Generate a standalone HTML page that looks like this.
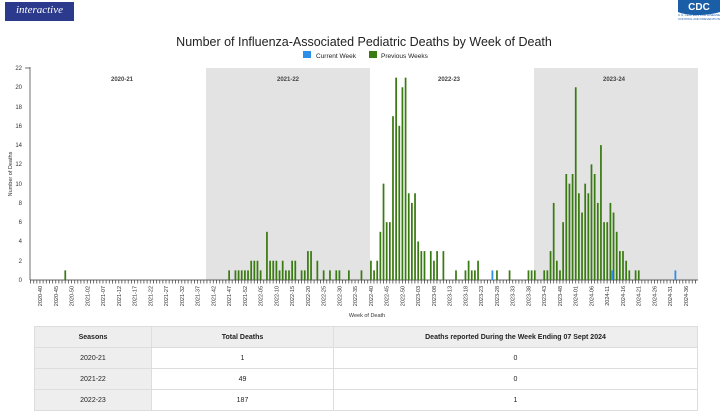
<!DOCTYPE html>
<html><head><meta charset="utf-8"><style>
body{margin:0;width:728px;height:409px;overflow:hidden;background:#fff;font-family:"Liberation Sans",sans-serif;position:relative}
.logo{position:absolute;left:5px;top:0;width:69px;height:19px;background:#2b3a8c;color:#fff;font-family:"Liberation Serif",serif;font-style:italic;font-size:11px;line-height:17px;text-align:center;border-top:2px solid #fff}
table{position:absolute;left:34px;top:326px;width:664px;border-collapse:collapse;font-size:7px;color:#222}
td{border:1px solid #ddd;text-align:center;height:20px;padding:0}
tr.h td{background:#eee;font-weight:bold}
td.f{background:#eee}
</style></head><body>
<div class="logo">interactive</div>
<svg width="728" height="409" style="position:absolute;left:0;top:0">
<g transform="translate(676,0)">
<path d="M2 0 H44 V12 C30 16 12 16 2 12 Z" fill="#1a5ea8"/>
<text x="23" y="10" font-size="10" font-weight="bold" fill="#fff" text-anchor="middle">CDC</text>
<text x="2" y="16" font-size="3" fill="#1a5ea8">U.S. CENTERS FOR DISEASE</text>
<text x="2" y="20" font-size="3" fill="#1a5ea8">CONTROL AND PREVENTION</text>
</g>
<text x="364" y="46" font-size="12.5" text-anchor="middle" fill="#222">Number of Influenza-Associated Pediatric Deaths by Week of Death</text>
<rect x="303" y="51" width="8" height="7" fill="#2e8fe8"/>
<text x="316" y="58" font-size="6.5" fill="#222">Current Week</text>
<rect x="369" y="51" width="8" height="7" fill="#3a7a12"/>
<text x="381" y="58" font-size="6.5" fill="#222">Previous Weeks</text>
<rect x="206" y="68" width="164" height="212" fill="#e3e3e3"/>
<rect x="534" y="68" width="164" height="212" fill="#e3e3e3"/>
<g font-size="6" font-weight="bold" fill="#444" text-anchor="middle">
<text x="122" y="81">2020-21</text><text x="288" y="81">2021-22</text><text x="449" y="81">2022-23</text><text x="614" y="81">2023-24</text></g>
<g font-size="6" fill="#333" text-anchor="end">
<text x="22" y="282">0</text><text x="22" y="263">2</text><text x="22" y="243">4</text><text x="22" y="224">6</text><text x="22" y="205">8</text><text x="22" y="186">10</text><text x="22" y="166">12</text><text x="22" y="147">14</text><text x="22" y="128">16</text><text x="22" y="109">18</text><text x="22" y="89">20</text><text x="22" y="70">22</text></g>
<g stroke="#333" stroke-width="0.7">
<line x1="30" y1="67" x2="30" y2="280"/>
<line x1="25" y1="68" x2="30" y2="68"/>
<line x1="30" y1="280" x2="698" y2="280"/>
</g>
<defs><pattern id="tk" x="39.6" y="280" width="3.151" height="4" patternUnits="userSpaceOnUse"><rect x="0" y="0" width="0.7" height="3.5" fill="#333"/></pattern></defs>
<rect x="30" y="280" width="668" height="4" fill="url(#tk)"/>
<g transform="translate(39.2,280) scale(3.151,-9.636)" fill="#3a7a12">
<rect x="8" width="0.55" height="1"/>
<rect x="60" width="0.55" height="1"/><rect x="62" width="0.55" height="1"/><rect x="63" width="0.55" height="1"/><rect x="64" width="0.55" height="1"/><rect x="65" width="0.55" height="1"/><rect x="66" width="0.55" height="1"/><rect x="67" width="0.55" height="2"/><rect x="68" width="0.55" height="2"/><rect x="69" width="0.55" height="2"/><rect x="70" width="0.55" height="1"/><rect x="72" width="0.55" height="5"/><rect x="73" width="0.55" height="2"/><rect x="74" width="0.55" height="2"/><rect x="75" width="0.55" height="2"/><rect x="76" width="0.55" height="1"/><rect x="77" width="0.55" height="2"/><rect x="78" width="0.55" height="1"/><rect x="79" width="0.55" height="1"/><rect x="80" width="0.55" height="2"/><rect x="81" width="0.55" height="2"/><rect x="83" width="0.55" height="1"/><rect x="84" width="0.55" height="1"/><rect x="85" width="0.55" height="3"/><rect x="86" width="0.55" height="3"/><rect x="88" width="0.55" height="2"/><rect x="90" width="0.55" height="1"/><rect x="92" width="0.55" height="1"/><rect x="94" width="0.55" height="1"/><rect x="95" width="0.55" height="1"/><rect x="98" width="0.55" height="1"/><rect x="102" width="0.55" height="1"/>
<rect x="105" width="0.55" height="2"/><rect x="106" width="0.55" height="1"/><rect x="107" width="0.55" height="2"/><rect x="108" width="0.55" height="5"/><rect x="109" width="0.55" height="10"/><rect x="110" width="0.55" height="6"/><rect x="111" width="0.55" height="6"/><rect x="112" width="0.55" height="17"/><rect x="113" width="0.55" height="21"/><rect x="114" width="0.55" height="16"/><rect x="115" width="0.55" height="20"/><rect x="116" width="0.55" height="21"/><rect x="117" width="0.55" height="9"/><rect x="118" width="0.55" height="8"/><rect x="119" width="0.55" height="9"/><rect x="120" width="0.55" height="4"/><rect x="121" width="0.55" height="3"/><rect x="122" width="0.55" height="3"/><rect x="124" width="0.55" height="3"/><rect x="125" width="0.55" height="2"/><rect x="126" width="0.55" height="3"/><rect x="128" width="0.55" height="3"/><rect x="132" width="0.55" height="1"/><rect x="135" width="0.55" height="1"/><rect x="136" width="0.55" height="2"/><rect x="137" width="0.55" height="1"/><rect x="138" width="0.55" height="1"/><rect x="139" width="0.55" height="2"/><rect x="145" width="0.55" height="1"/><rect x="149" width="0.55" height="1"/><rect x="155" width="0.55" height="1"/><rect x="156" width="0.55" height="1"/><rect x="157" width="0.55" height="1"/>
<rect x="160" width="0.55" height="1"/><rect x="161" width="0.55" height="1"/><rect x="162" width="0.55" height="3"/><rect x="163" width="0.55" height="8"/><rect x="164" width="0.55" height="2"/><rect x="165" width="0.55" height="1"/><rect x="166" width="0.55" height="6"/><rect x="167" width="0.55" height="11"/><rect x="168" width="0.55" height="10"/><rect x="169" width="0.55" height="11"/><rect x="170" width="0.55" height="20"/><rect x="171" width="0.55" height="9"/><rect x="172" width="0.55" height="7"/><rect x="173" width="0.55" height="10"/><rect x="174" width="0.55" height="9"/><rect x="175" width="0.55" height="12"/><rect x="176" width="0.55" height="11"/><rect x="177" width="0.55" height="8"/><rect x="178" width="0.55" height="14"/><rect x="179" width="0.55" height="6"/><rect x="180" width="0.55" height="6"/><rect x="181" width="0.55" height="8"/><rect x="182" width="0.55" height="7"/><rect x="183" width="0.55" height="5"/><rect x="184" width="0.55" height="3"/><rect x="185" width="0.55" height="3"/><rect x="186" width="0.55" height="2"/><rect x="187" width="0.55" height="1"/><rect x="189" width="0.55" height="1"/><rect x="190" width="0.55" height="1"/>
</g>
<g fill="#2e8fe8">
<rect x="491.5" y="270.4" width="1.8" height="9.6"/><rect x="611.5" y="270.4" width="1.8" height="9.6"/><rect x="674.5" y="270.4" width="1.8" height="9.6"/>
</g>
<g font-size="5.5" fill="#333" text-anchor="end">
<text transform="translate(42,286) rotate(-90)">2020-40</text>
<text transform="translate(57.8,286) rotate(-90)">2020-45</text>
<text transform="translate(73.5,286) rotate(-90)">2020-50</text>
<text transform="translate(89.3,286) rotate(-90)">2021-02</text>
<text transform="translate(105,286) rotate(-90)">2021-07</text>
<text transform="translate(120.8,286) rotate(-90)">2021-12</text>
<text transform="translate(136.5,286) rotate(-90)">2021-17</text>
<text transform="translate(152.3,286) rotate(-90)">2021-22</text>
<text transform="translate(168,286) rotate(-90)">2021-27</text>
<text transform="translate(183.8,286) rotate(-90)">2021-32</text>
<text transform="translate(199.6,286) rotate(-90)">2021-37</text>
<text transform="translate(215.3,286) rotate(-90)">2021-42</text>
<text transform="translate(231.1,286) rotate(-90)">2021-47</text>
<text transform="translate(246.8,286) rotate(-90)">2021-52</text>
<text transform="translate(262.6,286) rotate(-90)">2022-05</text>
<text transform="translate(278.3,286) rotate(-90)">2022-10</text>
<text transform="translate(294.1,286) rotate(-90)">2022-15</text>
<text transform="translate(309.8,286) rotate(-90)">2022-20</text>
<text transform="translate(325.6,286) rotate(-90)">2022-25</text>
<text transform="translate(341.3,286) rotate(-90)">2022-30</text>
<text transform="translate(357.1,286) rotate(-90)">2022-35</text>
<text transform="translate(372.9,286) rotate(-90)">2022-40</text>
<text transform="translate(388.6,286) rotate(-90)">2022-45</text>
<text transform="translate(404.4,286) rotate(-90)">2022-50</text>
<text transform="translate(420.1,286) rotate(-90)">2023-03</text>
<text transform="translate(435.9,286) rotate(-90)">2023-08</text>
<text transform="translate(451.6,286) rotate(-90)">2023-13</text>
<text transform="translate(467.4,286) rotate(-90)">2023-18</text>
<text transform="translate(483.1,286) rotate(-90)">2023-23</text>
<text transform="translate(498.9,286) rotate(-90)">2023-28</text>
<text transform="translate(514.7,286) rotate(-90)">2023-33</text>
<text transform="translate(530.4,286) rotate(-90)">2023-38</text>
<text transform="translate(546.2,286) rotate(-90)">2023-43</text>
<text transform="translate(561.9,286) rotate(-90)">2023-48</text>
<text transform="translate(577.7,286) rotate(-90)">2024-01</text>
<text transform="translate(593.4,286) rotate(-90)">2024-06</text>
<text transform="translate(609.2,286) rotate(-90)">2024-11</text>
<text transform="translate(624.9,286) rotate(-90)">2024-16</text>
<text transform="translate(640.7,286) rotate(-90)">2024-21</text>
<text transform="translate(656.4,286) rotate(-90)">2024-26</text>
<text transform="translate(672.2,286) rotate(-90)">2024-31</text>
<text transform="translate(687.9,286) rotate(-90)">2024-36</text>
</g>
<text x="367" y="317" font-size="5.5" fill="#333" text-anchor="middle">Week of Death</text>
<text transform="translate(12,174) rotate(-90)" font-size="5.5" fill="#333" text-anchor="middle">Number of Deaths</text>
</svg>
<table>
<tr class="h"><td style="width:116px">Seasons</td><td style="width:181px">Total Deaths</td><td>Deaths reported During the Week Ending 07 Sept 2024</td></tr>
<tr><td class="f">2020-21</td><td>1</td><td>0</td></tr>
<tr><td class="f">2021-22</td><td>49</td><td>0</td></tr>
<tr><td class="f">2022-23</td><td>187</td><td>1</td></tr>
</table>
</body></html>
